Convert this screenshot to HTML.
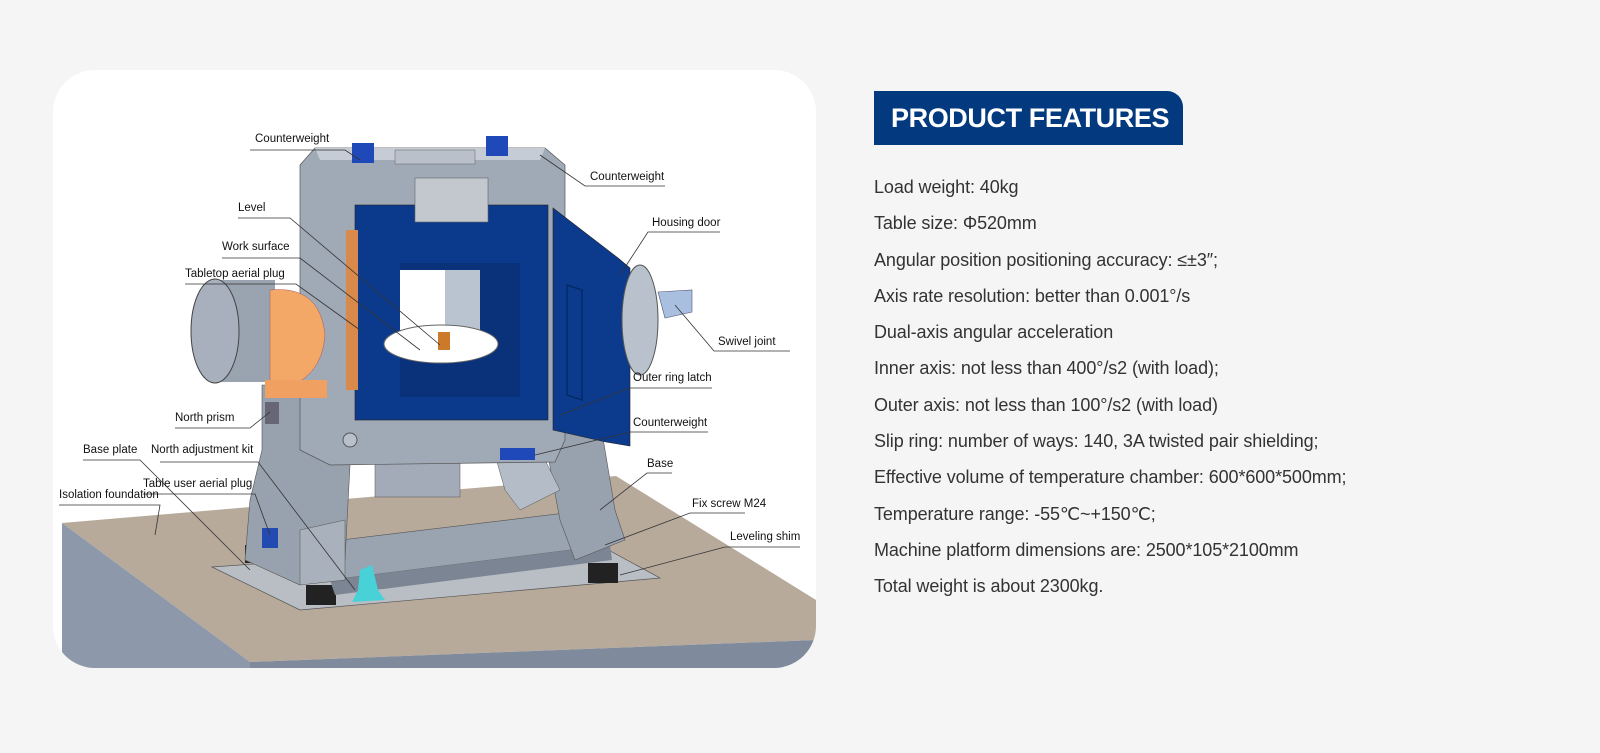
<!DOCTYPE html>
<html><head><meta charset="utf-8"><style>
body{margin:0;width:1600px;height:753px;background:#f5f5f5;overflow:hidden;position:relative;font-family:"Liberation Sans",sans-serif}
.card{position:absolute;left:53px;top:70px;width:763px;height:598px;background:#fff;border-radius:42px;overflow:hidden}
.badge{position:absolute;left:874px;top:91px;width:309px;height:54px;background:#02397f;border-top-right-radius:16px;color:#fff;font-weight:bold;font-size:27px;line-height:54px;text-indent:17px;letter-spacing:-0.4px}
.list{position:absolute;left:874px;top:169px;color:#333;font-size:18px;line-height:36.3px;letter-spacing:-0.1px}
.list div{white-space:nowrap}
svg text{font-family:"Liberation Sans",sans-serif;font-size:11.5px;fill:#111}
</style></head><body>
<div class="card"></div>
<svg width="1600" height="753" style="position:absolute;left:0;top:0">
<defs><clipPath id="c"><rect x="53" y="70" width="763" height="598" rx="42"/></clipPath></defs>
<g clip-path="url(#c)">
<polygon points="62,523 616,476 816,600 816,640 250,662" fill="#b7aa9b"/>
<polygon points="62,523 250,662 250,668 62,668" fill="#8d99aa"/>
<polygon points="250,662 816,640 816,668 250,668" fill="#7f8b9c"/>
<polygon points="212,567 590,540 660,578 300,610" fill="#b9bdc4" stroke="#555" stroke-width="0.7"/>
<rect x="245" y="545" width="22" height="18" fill="#222"/>
<rect x="306" y="585" width="30" height="20" fill="#222"/>
<rect x="588" y="563" width="30" height="20" fill="#222"/>
<polygon points="300,545 590,510 610,545 330,580" fill="#9aa3b0" stroke="#555" stroke-width="0.6"/>
<polygon points="330,580 610,545 612,560 335,595" fill="#7c8594"/>
<polygon points="262,385 355,385 350,465 345,560 300,585 245,560 250,500 262,450" fill="#98a1ae" stroke="#555" stroke-width="0.6"/>
<polygon points="300,530 345,520 345,580 300,585" fill="#a9b1bc" stroke="#555" stroke-width="0.5"/>
<polygon points="545,440 600,420 615,510 625,540 575,560 560,520" fill="#98a1ae" stroke="#555" stroke-width="0.6"/>
<rect x="375" y="455" width="85" height="42" fill="#a3abb8" stroke="#555" stroke-width="0.5"/>
<polygon points="495,455 540,450 560,490 520,510 505,490" fill="#b4bcc7" stroke="#555" stroke-width="0.5"/>
<polygon points="300,165 315,148 545,148 565,165 565,440 555,462 330,465 300,450" fill="#a0a9b6" stroke="#555" stroke-width="0.7"/>
<polygon points="315,148 545,148 540,160 320,160" fill="#c5ccd5"/>
<rect x="395" y="150" width="80" height="14" fill="#b9c0ca" stroke="#666" stroke-width="0.5"/>
<rect x="352" y="143" width="22" height="20" fill="#1f49b8"/>
<rect x="486" y="136" width="22" height="20" fill="#1f49b8"/>
<rect x="500" y="448" width="35" height="12" fill="#1f49b8"/>
<circle cx="350" cy="440" r="7" fill="#b8c0cb" stroke="#555"/>
<rect x="355" y="205" width="193" height="215" fill="#0b3a8c" stroke="#222" stroke-width="0.6"/>
<rect x="346" y="230" width="12" height="160" fill="#d9894a"/>
<rect x="400" y="263" width="120" height="134" fill="#0a327a"/>
<rect x="400" y="270" width="45" height="60" fill="#fff"/>
<rect x="445" y="270" width="35" height="60" fill="#b9c4d0"/>
<ellipse cx="441" cy="344" rx="57" ry="19" fill="#fff" stroke="#666"/>
<rect x="438" y="332" width="12" height="18" fill="#cc7a2a"/>
<rect x="415" y="178" width="73" height="44" fill="#c3c8cf" stroke="#666" stroke-width="0.6"/>
<polygon points="553,208 618,258 630,268 630,446 606,442 553,430" fill="#0c3b8e" stroke="#222" stroke-width="0.6"/>
<polygon points="567,285 582,290 582,400 567,395" fill="none" stroke="#032a66" stroke-width="1.5"/>
<ellipse cx="640" cy="320" rx="18" ry="55" fill="#b9c2cc" stroke="#555"/>
<polygon points="658,292 692,290 692,312 665,318" fill="#a9bfe0" stroke="#557" stroke-width="0.6"/>
<rect x="215" y="280" width="60" height="102" fill="#9aa4b1"/>
<ellipse cx="215" cy="331" rx="24" ry="52" fill="#a7b0bc" stroke="#444"/>
<path d="M270,290 Q320,285 325,335 Q322,380 278,390 L270,385 Z" fill="#f4a868" stroke="#a55" stroke-width="0.5"/>
<rect x="265" y="380" width="62" height="18" fill="#f0a060"/>
<rect x="265" y="402" width="14" height="22" fill="#667"/>
<rect x="262" y="528" width="16" height="20" fill="#224ab0"/>
<polygon points="360,570 372,565 378,590 385,600 352,602 358,590" fill="#49d1d8"/>
</g>
<g stroke="#333" stroke-width="0.8" fill="none">
<polyline points="250,150 345,150 360,160"/>
<polyline points="665,186 585,186 540,155"/>
<polyline points="238,218 290,218 440,345"/>
<polyline points="222,258 300,258 420,350"/>
<polyline points="185,284 296,284 360,330"/>
<polyline points="720,232 648,232 620,275"/>
<polyline points="790,351 714,351 675,305"/>
<polyline points="712,388 630,388 560,415"/>
<polyline points="708,432 630,432 535,455"/>
<polyline points="175,428 250,428 270,412"/>
<polyline points="83,460 140,460 250,570"/>
<polyline points="160,462 258,462 355,590"/>
<polyline points="143,494 255,494 270,535"/>
<polyline points="59,505 160,505 155,535"/>
<polyline points="672,473 647,473 600,510"/>
<polyline points="745,513 690,513 605,545"/>
<polyline points="800,547 725,547 620,575"/>
</g>
<text x="255" y="142">Counterweight</text>
<text x="590" y="180">Counterweight</text>
<text x="238" y="211">Level</text>
<text x="222" y="250">Work surface</text>
<text x="185" y="277">Tabletop aerial plug</text>
<text x="652" y="226">Housing door</text>
<text x="718" y="345">Swivel joint</text>
<text x="633" y="381">Outer ring latch</text>
<text x="633" y="426">Counterweight</text>
<text x="175" y="421">North prism</text>
<text x="83" y="453">Base plate</text>
<text x="151" y="453">North adjustment kit</text>
<text x="143" y="487">Table user aerial plug</text>
<text x="59" y="498">Isolation foundation</text>
<text x="647" y="467">Base</text>
<text x="692" y="507">Fix screw M24</text>
<text x="730" y="540">Leveling shim</text>
</svg>
<div class="badge">PRODUCT FEATURES</div>
<div class="list">
<div>Load weight: 40kg</div>
<div>Table size: Φ520mm</div>
<div>Angular position positioning accuracy: ≤±3″;</div>
<div>Axis rate resolution: better than 0.001°/s</div>
<div>Dual-axis angular acceleration</div>
<div>Inner axis: not less than 400°/s2 (with load);</div>
<div>Outer axis: not less than 100°/s2 (with load)</div>
<div>Slip ring: number of ways: 140, 3A twisted pair shielding;</div>
<div>Effective volume of temperature chamber: 600*600*500mm;</div>
<div>Temperature range: -55℃~+150℃;</div>
<div>Machine platform dimensions are: 2500*105*2100mm</div>
<div>Total weight is about 2300kg.</div>
</div>
</body></html>
